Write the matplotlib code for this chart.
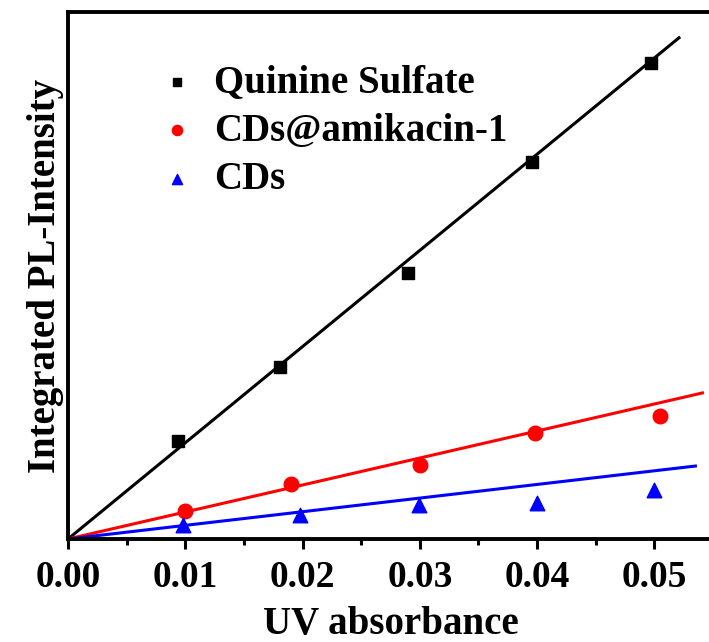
import numpy as np
import matplotlib
matplotlib.use("Agg")
import matplotlib.pyplot as plt
from matplotlib.ticker import MultipleLocator

plt.rcParams['font.family'] = ['Liberation Serif', 'DejaVu Serif']
plt.rcParams['font.weight'] = 'bold'

# data (y in arbitrary units)
x_qs = [0.0094, 0.0181, 0.0290, 0.0396, 0.0497]
y_qs = [98, 172, 266, 377, 476]
x_cda = [0.0100, 0.0190, 0.0300, 0.0398, 0.0505]
y_cda = [28, 55, 74, 106, 123]
x_cd = [0.0098, 0.0198, 0.0299, 0.0400, 0.0500]
y_cd = [14, 24, 34, 36, 49]

# linear fits through origin (slope, end of line)
slope_qs, end_qs = 9620, 0.0521
slope_cda, end_cda = 2700, 0.0541
slope_cd, end_cd = 1364, 0.0535

labels = ['Quinine Sulfate', 'CDs@amikacin-1', 'CDs']

fig = plt.figure(figsize=(7.09, 6.42), dpi=100)
ax = fig.add_axes([68/709, 103/642, 645/709, 527/642])

for s, e, c in [(slope_qs, end_qs, 'black'), (slope_cda, end_cda, 'red'), (slope_cd, end_cd, 'blue')]:
    xx = np.array([0, e])
    ax.plot(xx, s*xx, color=c, lw=2.2, zorder=2)

h1 = ax.scatter(x_qs, y_qs, marker='s', s=75, color='black', zorder=3, label=labels[0])
h2 = ax.scatter(x_cda, y_cda, marker='o', s=110, color='red', zorder=3, label=labels[1])
h3 = ax.scatter(x_cd, y_cd, marker='^', s=110, color='blue', zorder=3, label=labels[2])

ax.set_xlim(0, 0.055)
ax.set_ylim(0, 527)
ax.xaxis.set_minor_locator(MultipleLocator(0.005))
ax.set_xticks([0, 0.01, 0.02, 0.03, 0.04, 0.05])
ax.set_xticklabels(['0.00', '0.01', '0.02', '0.03', '0.04', '0.05'])
ax.set_yticks([])
ax.tick_params(axis='x', which='major', direction='out', length=7, width=2.2, labelsize=27, pad=8)
ax.tick_params(axis='x', which='minor', direction='out', length=4, width=2.2)
for sp in ax.spines.values():
    sp.set_linewidth(2.8)
ax.spines['right'].set_visible(False)

ax.set_xlabel('UV absorbance', fontsize=28, fontweight='bold', labelpad=8)
ax.set_ylabel('Integrated PL-Intensity', fontsize=28, fontweight='bold', labelpad=3)

leg = ax.legend(handles=[h1, h2, h3], loc='upper left', bbox_to_anchor=(0.085, 0.968),
                frameon=False, fontsize=28, markerscale=0.7, handlelength=1.0,
                handletextpad=0.45, labelspacing=0.3, scatterpoints=1)

fig.savefig('out.png', dpi=100)
